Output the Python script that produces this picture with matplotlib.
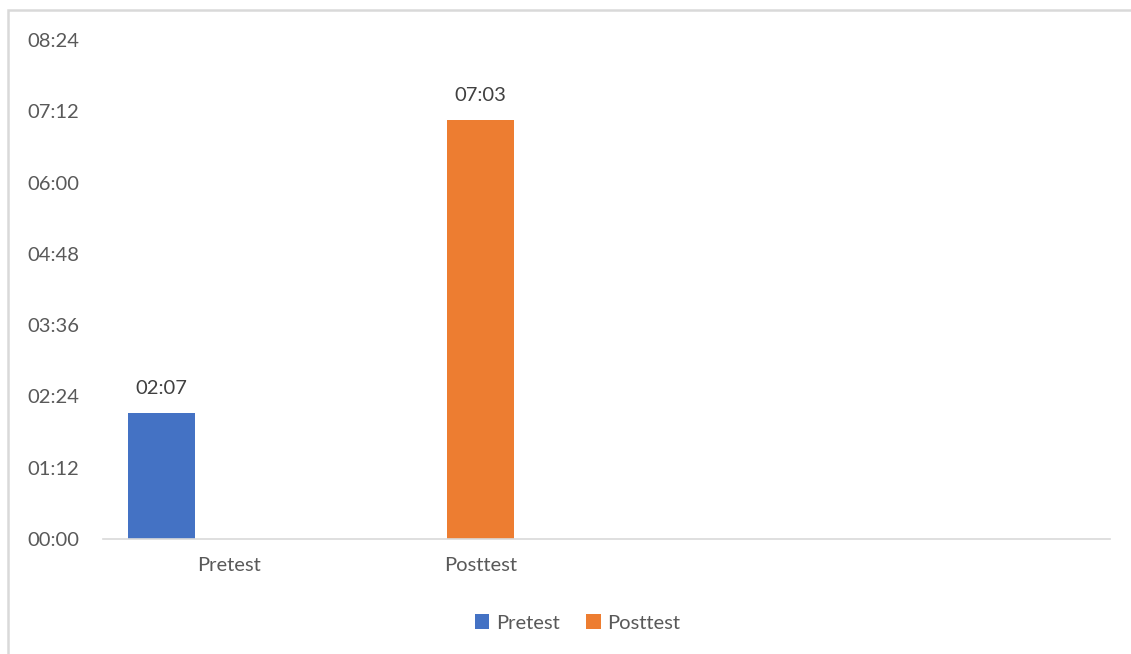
import matplotlib
matplotlib.use("Agg")
import matplotlib.pyplot as plt
from matplotlib.patches import Rectangle, Patch

# data: values are times in minutes (hh:mm shown on axis)
categories = ["Pretest", "Posttest", "", ""]
series_names = ["Pretest", "Posttest"]
pretest_vals = [127, 0, 0, 0]     # 02:07
posttest_vals = [0, 423, 0, 0]    # 07:03
y_ticks = list(range(0, 505, 72))

colors = ["#4472C4", "#ED7D31"]
text_col = "#595959"
line_col = "#D9D9D9"
fs = 14.5

plt.rcParams['font.family'] = ['Lato', 'DejaVu Sans']


def fmt(v):
    v = int(round(v))
    return f"{v // 60:02d}:{v % 60:02d}"


fig = plt.figure(figsize=(11.31, 6.54), dpi=100)
ax = fig.add_axes([103 / 1131, 1 - 539 / 654, (1110 - 103) / 1131, (539 - 40) / 654])

bar_w = 0.268
offsets = [-bar_w, 0.0]
x = [i + 0.5 for i in range(len(categories))]

for vals, off, col in zip([pretest_vals, posttest_vals], offsets, colors):
    for xi, v in zip(x, vals):
        if v > 0:
            ax.bar(xi + off, v, width=bar_w, color=col)
            ax.annotate(fmt(v), (xi + off, v), xytext=(0, 12), textcoords="offset points",
                        ha="center", va="bottom", fontsize=fs, color="#404040")

ax.set_xlim(0, len(categories))
ax.set_ylim(0, 504)
ax.set_yticks(y_ticks)
ax.set_yticklabels([fmt(t) for t in y_ticks])
ax.set_xticks(x)
ax.set_xticklabels(categories)
ax.tick_params(axis="both", length=0, labelsize=fs, colors=text_col)
ax.tick_params(axis="y", pad=17)
ax.tick_params(axis="x", pad=13)
for s in ["top", "right", "left"]:
    ax.spines[s].set_visible(False)
ax.spines["bottom"].set_color(line_col)
ax.spines["bottom"].set_linewidth(1.2)

# chart frame
fig.add_artist(Rectangle((8 / 1131, -0.1), 1.2, 1.1 - 10 / 654, transform=fig.transFigure,
                         fill=False, edgecolor=line_col, linewidth=1.8))

handles = [Patch(facecolor=c) for c in colors]
fig.legend(handles, series_names, loc="center", bbox_to_anchor=(578 / 1131, 1 - 623 / 654),
           ncol=2, frameon=False, fontsize=fs, handlelength=0.7, handleheight=0.7,
           handletextpad=0.35, columnspacing=1.3, labelcolor=text_col)

fig.savefig("out.png", dpi=100)
